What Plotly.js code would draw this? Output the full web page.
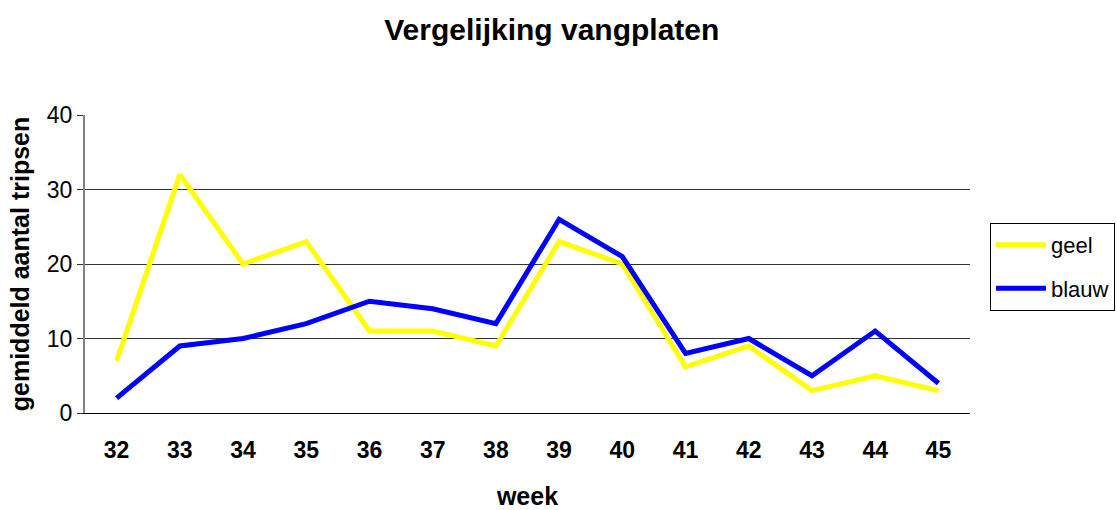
<!DOCTYPE html>
<html><head><meta charset="utf-8">
<script src="https://cdn.plot.ly/plotly-3.0.1.min.js"></script>
<style>html,body{margin:0;padding:0;background:#fff}</style>
</head><body>
<div id="chart" style="width:1117px;height:510px"></div>
<script>
const weeks = ["32","33","34","35","36","37","38","39","40","41","42","43","44","45"];
const geel = [7, 32, 20, 23, 11, 11, 9, 23, 20, 6.2, 9, 3, 5, 3];
const blauw = [2, 9, 10, 12, 15, 14, 12, 26, 21, 8, 10, 5, 11, 4];
const yTicks = [0, 10, 20, 30, 40];

const traces = [
  {x: weeks, y: geel, name: "geel", type: "scatter", mode: "lines", legendgroup: "g",
   line: {color: "#FFFF00", width: 5}},
  {x: weeks, y: blauw, name: "blauw", type: "scatter", mode: "lines", legendgroup: "b",
   line: {color: "#0000FF", width: 5}}
];
const layout = {
  width: 1117, height: 510,
  margin: {l: 85, r: 147, t: 115, b: 97, autoexpand: false},
  paper_bgcolor: "#fff", plot_bgcolor: "#fff",
  font: {family: "Liberation Sans, Arial, sans-serif", color: "#000"},
  title: {text: "<b>Vergelijking vangplaten</b>", font: {size: 30, color: "#000"},
          x: 0.494, xanchor: "center", y: 0.943, yanchor: "middle"},
  xaxis: {type: "category", range: [-0.5, 13.5], showgrid: false,
          ticks: "", tickfont: {size: 23, color: "#000"}, ticklabelstandoff: 16,
          tickvals: weeks, ticktext: weeks.map(w => "<b>" + w + "</b>"),
          showline: true, linecolor: "#000", linewidth: 1,
          title: {text: "<b>week</b>", font: {size: 25}, standoff: 28}},
  yaxis: {range: [0, 40], tickvals: yTicks, ticks: "outside", ticklen: 6,
          tickcolor: "#333", tickfont: {size: 23, color: "#000"},
          showgrid: true, gridcolor: "#333", gridwidth: 1,
          zeroline: false, showline: true, linecolor: "#808080", linewidth: 2,
          title: {text: "<b>gemiddeld aantal tripsen</b>", font: {size: 25}, standoff: 10}},
  legend: {x: 1.0226, xanchor: "left", y: 0.638, yanchor: "top",
           bordercolor: "#000", borderwidth: 1, bgcolor: "#fff",
           font: {size: 22, color: "#000"}, tracegroupgap: 12, itemwidth: 50},
  showlegend: true
};
Plotly.newPlot("chart", traces, layout, {displayModeBar: false, staticPlot: true});
</script>
</body></html>
